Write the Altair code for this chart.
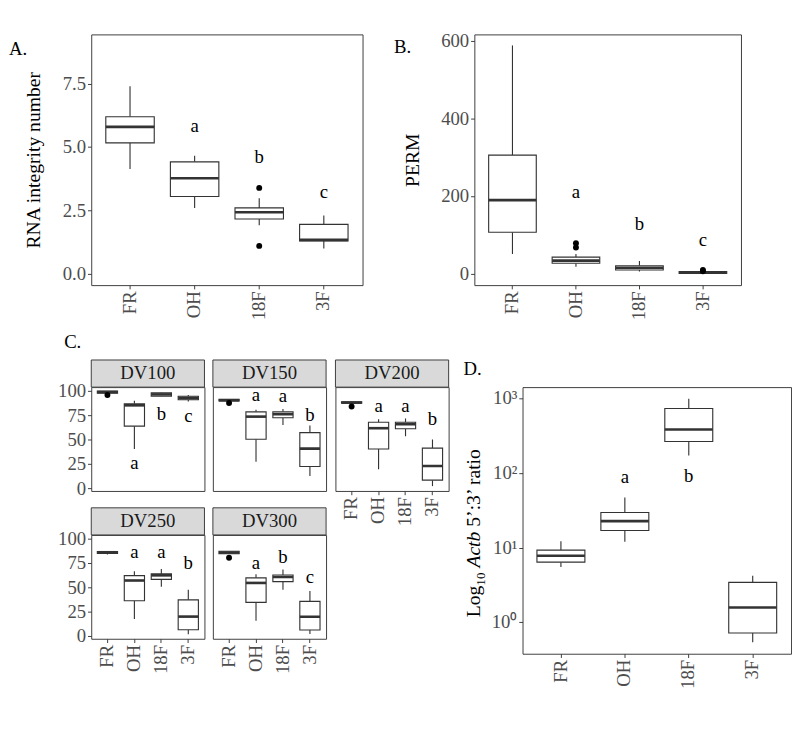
import altair as alt
import pandas as pd

FONT = "Liberation Serif"
INK = "#333333"
LABEL_GREY = "#4d4d4d"
LW = 1.2
MED_W = 2.8

GROUPS = ["FR", "OH", "18F", "3F"]

# each row: lower whisker, Q1, median, Q3, upper whisker (order of GROUPS)
A_STATS = [
    [4.14, 5.17, 5.80, 6.20, 7.40],
    [2.60, 3.05, 3.77, 4.42, 4.66],
    [1.92, 2.16, 2.43, 2.60, 2.98],
    [1.00, 1.30, 1.34, 1.95, 2.30],
]
A_OUT_GROUP = ["18F", "18F"]
A_OUT_VALUE = [3.39, 1.10]
A_LETTER_GROUP = ["OH", "18F", "3F"]
A_LETTER = ["a", "b", "c"]
A_LETTER_Y = [5.82, 4.59, 3.22]

B_STATS = [
    [51, 107, 190, 306, 589],
    [18, 27, 34, 43, 51],
    [6, 9.6, 15.6, 20.8, 32.8],
    [0.5, 1.0, 3.0, 5.5, 6.0],
]
B_OUT_GROUP = ["OH", "OH", "3F", "3F"]
B_OUT_VALUE = [78.7, 67.6, 10.0, 6.5]
B_LETTER_GROUP = ["OH", "18F", "3F"]
B_LETTER = ["a", "b", "c"]
B_LETTER_Y = [210, 127, 87]

DV100_STATS = [
    [97.7, 97.8, 99.0, 100.0, 100.0],
    [40.5, 64.0, 85.4, 86.9, 90.2],
    [94.5, 94.7, 96.6, 98.2, 98.5],
    [89.3, 91.1, 92.9, 94.7, 96.0],
]
DV100_OUT_GROUP = ["FR"]
DV100_OUT_VALUE = [96.0]
DV100_LETTER_GROUP = ["OH", "18F", "3F"]
DV100_LETTER = ["a", "b", "c"]
DV100_LETTER_Y = [25.3, 75.6, 74.1]

DV150_STATS = [
    [89.6, 90.0, 90.6, 91.6, 92.0],
    [27.4, 50.6, 73.8, 78.7, 80.8],
    [65.2, 72.6, 76.2, 78.7, 81.7],
    [12.8, 22.6, 40.9, 57.3, 64.6],
]
DV150_OUT_GROUP = ["FR"]
DV150_OUT_VALUE = [87.8]
DV150_LETTER_GROUP = ["OH", "18F", "3F"]
DV150_LETTER = ["a", "a", "b"]
DV150_LETTER_Y = [96.0, 94.8, 75.0]

DV200_STATS = [
    [87.2, 87.5, 88.2, 89.0, 89.3],
    [19.8, 40.5, 61.9, 68.0, 71.0],
    [53.6, 61.3, 65.9, 68.0, 71.9],
    [2.4, 8.5, 23.1, 41.4, 50.3],
]
DV200_OUT_GROUP = ["FR"]
DV200_OUT_VALUE = [84.2]
DV200_LETTER_GROUP = ["OH", "18F", "3F"]
DV200_LETTER = ["a", "a", "b"]
DV200_LETTER_Y = [84.2, 84.2, 71.0]

DV250_STATS = [
    [84.0, 85.0, 86.3, 87.0, 87.5],
    [17.8, 36.5, 57.3, 62.3, 66.8],
    [50.9, 58.4, 62.6, 64.1, 69.2],
    [2.2, 6.7, 20.2, 37.4, 47.9],
]
DV250_OUT_GROUP = []
DV250_OUT_VALUE = []
DV250_LETTER_GROUP = ["OH", "18F", "3F"]
DV250_LETTER = ["a", "a", "b"]
DV250_LETTER_Y = [86.4, 86.4, 74.4]

DV300_STATS = [
    [84.8, 84.8, 86.0, 87.3, 87.3],
    [16.0, 34.8, 54.8, 60.0, 63.6],
    [47.9, 56.1, 60.9, 63.0, 68.5],
    [2.4, 6.4, 20.0, 35.8, 46.4],
]
DV300_OUT_GROUP = ["FR"]
DV300_OUT_VALUE = [80.6]
DV300_LETTER_GROUP = ["OH", "18F", "3F"]
DV300_LETTER = ["a", "b", "c"]
DV300_LETTER_Y = [74.5, 80.6, 60.9]

D_STATS = [
    [5.5, 6.4, 7.8, 9.27, 12.2],
    [12.0, 17.0, 22.7, 29.6, 47.0],
    [172, 264, 383, 731, 990],
    [0.54, 0.72, 1.58, 3.44, 4.2],
]
D_LETTER_GROUP = ["OH", "18F"]
D_LETTER = ["a", "b"]
D_LETTER_Y = [87.5, 90.0]


def txt(text, x, y, size=20, angle=0, align="left", baseline="alphabetic",
        style="normal", color="black", opacity=1):
    return alt.Chart(pd.DataFrame({"t": [text]})).mark_text(
        text=text, font=FONT, fontSize=size, angle=angle, align=align,
        baseline=baseline, fontStyle=style, color=color, opacity=opacity
    ).encode(x=alt.value(x), y=alt.value(y))


AX_STYLE = dict(labelFont=FONT, labelFontSize=20, labelColor=LABEL_GREY, tickColor=INK,
                tickSize=4, labelPadding=2, titleFont=FONT, titleFontSize=21,
                titleColor="black", titleFontWeight="normal", grid=False, domain=False)


def x_axis():
    return alt.Axis(title=None, labelAngle=270, labelAlign="right",
                    labelBaseline="middle", **AX_STYLE)


def box_chart(stats, out_g, out_v, let_g, let_t, let_y, width, height,
              ydom, yaxis, xaxis, ytype="linear", extra=()):
    bw = width / 4.2 * 0.75
    df = pd.DataFrame(stats, columns=["lo", "q1", "med", "q3", "hi"])
    df.insert(0, "g", GROUPS)
    xs = alt.Scale(type="band", domain=GROUPS, paddingInner=0.25, paddingOuter=0.225)
    X = alt.X("g:N", scale=xs, axis=xaxis)
    ys = alt.Scale(type=ytype, domain=ydom, nice=False, zero=False)

    def Y(f):
        return alt.Y(f, type="quantitative", scale=ys, axis=yaxis)

    base = alt.Chart(df)
    layers = [
        base.mark_rule(color=INK, strokeWidth=LW).encode(x=X, y=Y("lo"), y2="q1"),
        base.mark_rule(color=INK, strokeWidth=LW).encode(x=X, y=Y("q3"), y2="hi"),
        base.mark_bar(fill="white", stroke=INK, strokeWidth=LW).encode(x=X, y=Y("q1"), y2="q3"),
        base.mark_tick(color=INK, thickness=MED_W, size=bw, opacity=1).encode(x=X, y=Y("med")),
    ]
    if len(out_g) > 0:
        odf = pd.DataFrame({"g": out_g, "v": out_v})
        layers.append(alt.Chart(odf).mark_circle(color="black", size=40, opacity=1).encode(x=X, y=Y("v")))
    if len(let_g) > 0:
        ldf = pd.DataFrame({"g": let_g, "v": let_y, "t": let_t})
        layers.append(alt.Chart(ldf).mark_text(font=FONT, fontSize=20, color="black",
                                                baseline="middle").encode(x=X, y=Y("v"), text="t:N"))
    layers.extend(extra)
    return alt.layer(*layers).properties(width=width, height=height)


# ---------------- Panel A ----------------
A_W, A_H = 290, 268
axisA = alt.Axis(values=[0, 2.5, 5, 7.5], format=".1f", title="RNA integrity number",
                 titlePadding=20, **AX_STYLE)
chartA = box_chart(A_STATS, A_OUT_GROUP, A_OUT_VALUE, A_LETTER_GROUP, A_LETTER, A_LETTER_Y,
                   A_W, A_H, [-0.45, 9.45], axisA, x_axis(),
                   extra=[txt("A.", -88, 22)])

# ---------------- Panel B ----------------
B_W, B_H = 285, 268
axisB = alt.Axis(values=[0, 200, 400, 600], title="PERM", titlePadding=20, **AX_STYLE)
chartB = box_chart(B_STATS, B_OUT_GROUP, B_OUT_VALUE, B_LETTER_GROUP, B_LETTER, B_LETTER_Y,
                   B_W, B_H, [-29.4, 617.4], axisB, x_axis(),
                   extra=[txt("B.", -86, 20)])

# ---------------- Panel C ----------------
C_W, C_H, STRIP = 121, 111, 29
C_DOM = [-2.6, 104.1]
C_LABEL_Y = -41.7


def dv_panel(name, stats, og, ov, lg, lt, ly, show_y, show_x, extra=()):
    yax = alt.Axis(values=[0, 25, 50, 75, 100], title=None, **AX_STYLE) if show_y else None
    xax = x_axis() if show_x else None
    one = pd.DataFrame({"v": [0]})
    strip = alt.Chart(one).mark_rect(fill="#d9d9d9", stroke=INK, strokeWidth=1).encode(
        x=alt.value(0), x2=alt.value(C_W), y=alt.value(-STRIP), y2=alt.value(0))
    strip_t = txt(name, C_W / 2, -STRIP / 2, size=20, align="center", baseline="middle", color="#1a1a1a")
    return box_chart(stats, og, ov, lg, lt, ly, C_W, C_H, C_DOM, yax, xax,
                     extra=[strip, strip_t] + list(extra))


dv100 = dv_panel("DV100", DV100_STATS, DV100_OUT_GROUP, DV100_OUT_VALUE, DV100_LETTER_GROUP,
                 DV100_LETTER, DV100_LETTER_Y, True, False,
                 extra=[txt("C.", -29, C_LABEL_Y)])
dv150 = dv_panel("DV150", DV150_STATS, DV150_OUT_GROUP, DV150_OUT_VALUE, DV150_LETTER_GROUP,
                 DV150_LETTER, DV150_LETTER_Y, False, False)
dv200 = dv_panel("DV200", DV200_STATS, DV200_OUT_GROUP, DV200_OUT_VALUE, DV200_LETTER_GROUP,
                 DV200_LETTER, DV200_LETTER_Y, False, True,
                 extra=[txt("C.", 50, C_LABEL_Y, opacity=0)])
dv250 = dv_panel("DV250", DV250_STATS, DV250_OUT_GROUP, DV250_OUT_VALUE, DV250_LETTER_GROUP,
                 DV250_LETTER, DV250_LETTER_Y, True, True)
dv300 = dv_panel("DV300", DV300_STATS, DV300_OUT_GROUP, DV300_OUT_VALUE, DV300_LETTER_GROUP,
                 DV300_LETTER, DV300_LETTER_Y, False, True)

rowC1 = alt.hconcat(dv100, dv150, spacing=9, bounds="flush")
rowC2 = alt.hconcat(dv250, dv300, spacing=9, bounds="flush")
colC12 = alt.vconcat(rowC1, rowC2, spacing=9)
chartC = alt.hconcat(colC12, dv200, spacing=8)

# ---------------- Panel D ----------------
D_W, D_H = 287, 285
axisD = alt.Axis(values=[1, 10, 100, 1000], title=None,
                 labelExpr="datum.value >= 999 ? '10³' : datum.value >= 99 ? '10²' : datum.value >= 9 ? '10¹' : '10⁰'",
                 **AX_STYLE)
d_extra = [
    txt("Log", -45, 246, 21, angle=270),
    txt("10", -40, 212.2, 14, angle=270),
    txt("Actb", -45, 192.9, 21, angle=270, style="italic"),
    txt("5\u2019:3\u2019 ratio", -45, 149.2, 21, angle=270),
    txt("D.", -63, -12.6),
]
chartD = box_chart(D_STATS, [], [], D_LETTER_GROUP, D_LETTER, D_LETTER_Y,
                   D_W, D_H, [0.38, 1413], axisD, x_axis(), ytype="log", extra=d_extra)

rowTop = alt.hconcat(chartA, chartB, spacing=31.5)
rowBottom = alt.hconcat(chartC, chartD, spacing=14)

chart = alt.vconcat(rowTop, rowBottom, spacing=12).properties(
    padding=0
).configure(
    font=FONT
).configure_view(
    stroke=INK, strokeWidth=1
)

chart.save("out.html", embed_options={"renderer": "svg", "actions": False})
